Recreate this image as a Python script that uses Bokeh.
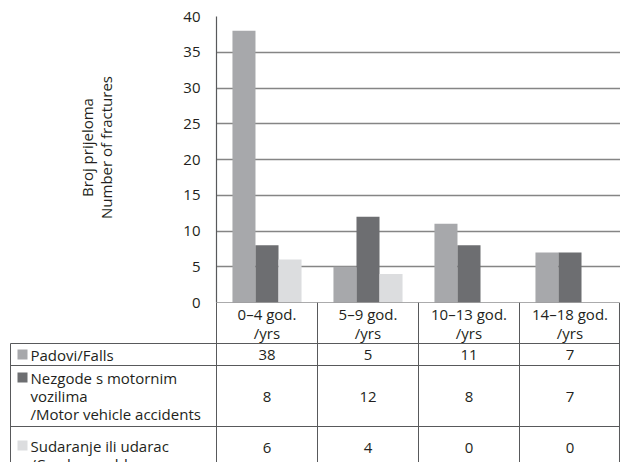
from math import pi
from bokeh.plotting import figure
from bokeh.models import FactorRange, Range1d, FixedTicker, ColumnDataSource
from bokeh.transform import dodge
from bokeh.embed import file_html
from bokeh.resources import INLINE
from bokeh.core.properties import value

# ---------------- data ----------------
categories = ["0–4 god. /yrs", "5–9 god. /yrs", "10–13 god. /yrs", "14–18 god. /yrs"]
header_text = ["0–4 god.\n/yrs", "5–9 god.\n/yrs", "10–13 god.\n/yrs", "14–18 god.\n/yrs"]
series_labels = ["Padovi/Falls",
                 "Nezgode s motornim\nvozilima\n/Motor vehicle accidents",
                 "Sudaranje ili udarac\n/Crashes or blows"]
falls = [38, 5, 11, 7]
motor = [8, 12, 8, 7]
crashes = [6, 4, 0, 0]
y_ticks = [0, 5, 10, 15, 20, 25, 30, 35, 40]
y_title = "Broj prijeloma\nNumber of fractures"

# ---------------- styles / layout ----------------
colors = ["#a7a8ab", "#6d6e71", "#dcdddf"]
FONT = "Open Sans"
TXT = "#231f20"
LINE = "#58595b"
BAR_W = 0.228
W = 620
EXTRA = 10      # room below the frame for the "0" tick label
TOP_H = 302 + EXTRA
TAB_H = 160
LEFT = 216      # px from figure left to plot frame
COLW = 101.0    # px per category column

src = ColumnDataSource(dict(cat=categories, falls=falls, motor=motor, crashes=crashes))

p1 = figure(width=W, height=TOP_H, x_range=FactorRange(*categories),
            y_range=Range1d(0, 40), output_backend="svg", toolbar_location=None,
            min_border_left=LEFT, min_border_right=0, min_border_top=16,
            min_border_bottom=EXTRA)
p1.xaxis.visible = False
p1.xgrid.visible = False
p1.outline_line_color = None
p1.ygrid.grid_line_color = "#858585"
p1.ygrid.grid_line_width = 1.3
p1.yaxis.ticker = FixedTicker(ticks=y_ticks)
p1.yaxis.major_tick_line_color = None
p1.yaxis.minor_tick_line_color = None
p1.yaxis.axis_line_color = LINE
p1.yaxis.axis_line_width = 1.2
p1.yaxis.major_label_text_font = FONT
p1.yaxis.major_label_text_font_size = "15px"
p1.yaxis.major_label_text_color = TXT
p1.yaxis.major_label_standoff = 10

for key, off, c in [("falls", -BAR_W, colors[0]), ("motor", 0.0, colors[1]), ("crashes", BAR_W, colors[2])]:
    p1.vbar(x=dodge("cat", off, range=p1.x_range), top=key, width=BAR_W, source=src,
            fill_color=c, line_color=None)

# ---------------- data table ----------------
x0 = -LEFT / COLW
p2 = figure(width=W, height=TAB_H, x_range=Range1d(x0, 4), y_range=Range1d(TAB_H, 0),
            output_backend="svg", toolbar_location=None,
            min_border_left=0, min_border_right=0, min_border_top=0, min_border_bottom=0)
p2.axis.visible = False
p2.grid.visible = False
p2.outline_line_color = None
p2.background_fill_alpha = 0
p2.border_fill_alpha = 0
p2.styles = {"margin-top": f"-{EXTRA}px"}

tab_left = x0 + 10 / COLW
row_edges = [0, 41, 63, 124]
hx0 = [0] + [tab_left] * 3
p2.segment(x0=hx0, y0=row_edges, x1=[3.99] * 4, y1=row_edges, line_color=LINE, line_width=1)
vx = [0, 1, 2, 3, 3.99]
p2.segment(x0=vx, y0=[0] * 5, x1=vx, y1=[TAB_H] * 5, line_color=LINE, line_width=1)
p2.segment(x0=[tab_left], y0=[41], x1=[tab_left], y1=[TAB_H], line_color=LINE, line_width=1)

centers = [i + 0.5 for i in range(4)]
p2.text(x=centers, y=[20.5] * 4, text=header_text, text_font=value(FONT),
        text_font_size="15px", text_color=TXT, text_align="center",
        text_baseline="middle", text_line_height=0.95)

value_rows = [falls, motor, crashes]
value_y = [52, 94, 145]
for vals, yy in zip(value_rows, value_y):
    p2.text(x=centers, y=[yy] * 4, text=[str(v) for v in vals], text_font=value(FONT),
            text_font_size="15px", text_color=TXT, text_align="center", text_baseline="middle")

label_y = [52, 93, 152]
sq_y = [52, 75, 143]
label_x = x0 + 30 / COLW
sq_x = x0 + 22 / COLW
p2.text(x=[label_x] * 3, y=label_y, text=series_labels, text_font=value(FONT),
        text_font_size="15px", text_color=TXT, text_align="left",
        text_baseline="middle", text_line_height=0.9)
p2.scatter(x=[sq_x] * 3, y=sq_y, marker="square", size=10, fill_color=colors, line_color=None)

# ---------------- y-axis title (overlay) ----------------
p0 = figure(width=180, height=300, x_range=Range1d(0, 180), y_range=Range1d(0, 300),
            output_backend="svg", toolbar_location=None,
            min_border_left=0, min_border_right=0, min_border_top=0, min_border_bottom=0)
p0.axis.visible = False
p0.grid.visible = False
p0.outline_line_color = None
p0.background_fill_alpha = 0
p0.border_fill_alpha = 0
p0.styles = {"position": "absolute", "left": "0px", "top": "0px"}
p0.text(x=[96], y=[300 - 147], text=[y_title], angle=pi / 2, text_font=value(FONT),
        text_font_size="15px", text_color=TXT, text_align="center",
        text_baseline="middle", text_line_height=0.95)

open("out.html", "w").write(file_html([p1, p2, p0], INLINE))
